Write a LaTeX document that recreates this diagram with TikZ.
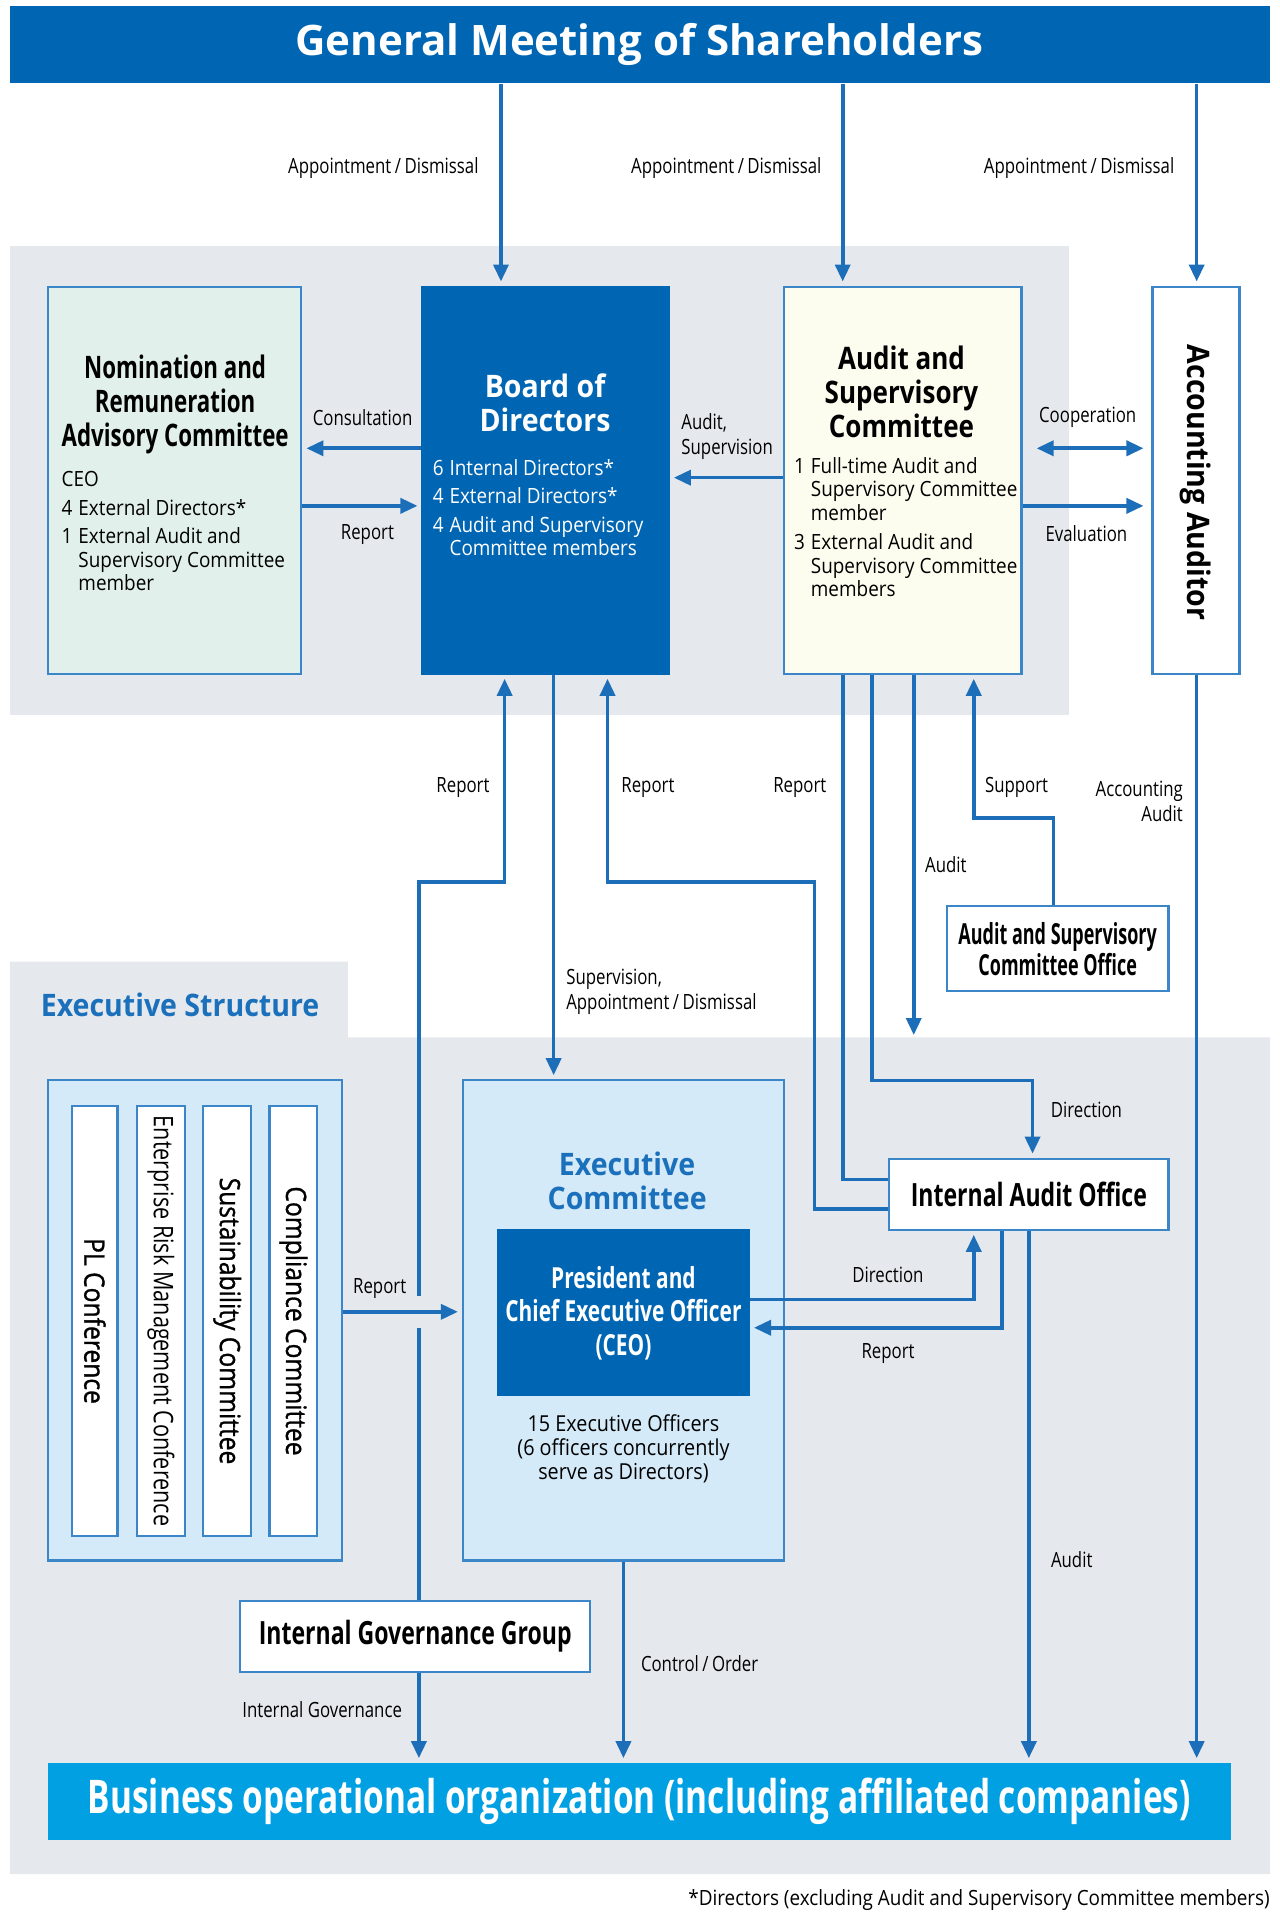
\documentclass[tikz,border=0pt]{standalone}
\usepackage{fontspec}
\setmainfont{Open Sans}
\newfontfamily\fbody{Open Sans}[FakeStretch=0.9]
\newfontfamily\fstrip{Open Sans}[FakeStretch=0.88,FakeBold=1]
\newfontfamily\flab{Open Sans}[FakeStretch=0.8]
\newfontfamily\fbc{Open Sans}[FakeStretch=0.72]
\newfontfamily\fbcx{Open Sans}[FakeStretch=0.62]
\newfontfamily\fbn{Open Sans}[FakeStretch=0.92]
\newfontfamily\fbm{Open Sans}[FakeStretch=0.84]
\usetikzlibrary{arrows.meta,fit}
\definecolor{dblue}{HTML}{0066B3}
\definecolor{lblue}{HTML}{1C6EB9}
\definecolor{bord}{HTML}{3A86C8}
\definecolor{mint}{HTML}{E1F0EB}
\definecolor{cream}{HTML}{FDFDEF}
\definecolor{lightb}{HTML}{D4EAF8}
\definecolor{panel}{HTML}{E5E9ED}
\definecolor{cyanb}{HTML}{00A0E2}
\definecolor{tblue}{HTML}{1B70BC}
\begin{document}
\begin{tikzpicture}[x=0.61244pt,y=-0.61244pt,
  box/.style={draw=bord, line width=1.1pt, inner sep=0pt},
  conn/.style={draw=lblue, line width=1.8pt},
  arr/.style={conn, -{Triangle[length=8.5pt,width=7.5pt]}, shorten >=2pt},
  dbl/.style={conn, {Triangle[length=8.5pt,width=7.5pt]}-{Triangle[length=8.5pt,width=7.5pt]}},
  lab/.style={font=\flab\fontsize{10.5}{12.5}\selectfont, inner sep=0pt, align=center},
  bodytxt/.style={font=\fbody\fontsize{10.5}{11.8}\selectfont, inner sep=0pt, anchor=west},
  ttlc/.style={font=\fbc\bfseries\fontsize{15.5}{17}\selectfont, inner sep=0pt, align=center},
  ttln/.style={font=\fbn\bfseries\fontsize{15.5}{17}\selectfont, inner sep=0pt, align=center},
  strip/.style={font=\fstrip\fontsize{14}{16}\selectfont, inner sep=0pt, rotate=-90},
]
\useasboundingbox (0,0) rectangle (1045,1570);
\fill[white] (0,0) rectangle (1045,1570);

% background panels
\fill[panel] (8,201) rectangle (873,584);
\fill[panel] (8,785) -- (284,785) -- (284,847) -- (1037,847) -- (1037,1530) -- (8,1530) -- cycle;

% top bar
\node[fill=dblue, inner sep=0pt, fit={(8,5) (1037,68)}] (gms) {};
\node[font=\bfseries\fontsize{21}{24}\selectfont, text=white, inner sep=0pt] (gmst) at (522,36) {General Meeting of Shareholders};

% upper boxes
\node[box, fill=mint, fit={(39,234) (246,550)}] (nrac) {};
\node[box, draw=dblue, fill=dblue, fit={(345,234) (546,550)}] (board) {};
\node[box, fill=cream, fit={(640,234) (834,550)}] (asc) {};
\node[box, fill=white, fit={(941,234) (1012,550)}] (acc) {};

\node[ttlc] (nract) at (143,330) {Nomination and\\Remuneration\\Advisory Committee};
\node[bodytxt] (nracb) at (50,436) {\begin{tabular}{@{}l@{\hspace{3pt}}l@{}}
\multicolumn{2}{@{}l@{}}{CEO}\\[2.5pt]
4 & External Directors*\\[2.5pt]
1 & External Audit and\\
  & Supervisory Committee\\
  & member
\end{tabular}};

\node[ttln, text=white] (boardt) at (445,329) {Board of\\Directors};
\node[bodytxt, text=white] (boardb) at (353,417) {\begin{tabular}{@{}l@{\hspace{3pt}}l@{}}
6 & Internal Directors*\\[2.5pt]
4 & External Directors*\\[2.5pt]
4 & Audit and Supervisory\\
  & Committee members
\end{tabular}};

\node[font=\fbm\bfseries\fontsize{15.5}{17}\selectfont, inner sep=0pt, align=center] (asct) at (736,320) {Audit and\\Supervisory\\Committee};
\node[bodytxt] (ascb) at (648,433) {\begin{tabular}{@{}l@{\hspace{3pt}}l@{}}
1 & Full-time Audit and\\
  & Supervisory Committee\\
  & member\\[2.7pt]
3 & External Audit and\\
  & Supervisory Committee\\
  & members
\end{tabular}};

\node[font=\fbn\bfseries\fontsize{15.5}{17}\selectfont, inner sep=0pt, rotate=-90] (acct) at (976,394) {Accounting Auditor};

% lower boxes
\node[font=\fbn\bfseries\fontsize{15.5}{17}\selectfont, text=tblue, inner sep=0pt] (exst) at (147,820) {Executive Structure};

\node[box, fill=lightb, fit={(39,882) (279,1274)}] (comm) {};
\node[box, fill=white, fit={(59,903) (96,1254)}] (s1) {};
\node[box, fill=white, fit={(112,903) (151,1254)}] (s2) {};
\node[box, fill=white, fit={(166,903) (205,1254)}] (s3) {};
\node[box, fill=white, fit={(220,903) (259,1254)}] (s4) {};
\node[strip] (s1t) at (s1.center) {PL Conference};
\node[strip, font=\flab\fontsize{13.5}{16}\selectfont] (s2t) at (s2.center) {Enterprise Risk Management Conference};
\node[strip] (s3t) at (s3.center) {Sustainability Committee};
\node[strip] (s4t) at (s4.center) {Compliance Committee};

\node[box, fill=lightb, fit={(378,882) (640,1274)}] (exec) {};
\node[ttln, text=tblue] (exect) at (512,964) {Executive\\Committee};
\node[fill=dblue, inner sep=0pt, fit={(406,1003) (612,1140)}] (ceo) {};
\node[font=\fbc\bfseries\fontsize{14.5}{16.8}\selectfont, text=white, inner sep=0pt, align=center] (ceot) at (509,1072) {President and\\Chief Executive Officer\\(CEO)};
\node[font=\fbody\fontsize{11}{12}\selectfont, inner sep=0pt, align=center] (officers) at (509,1183) {15 Executive Officers\\(6 officers concurrently\\serve as Directors)};

\node[box, fill=white, fit={(726,946) (954,1004)}] (iao) {};
\node[font=\fbc\bfseries\fontsize{16}{18}\selectfont, inner sep=0pt] (iaot) at (iao.center) {Internal Audit Office};
\node[box, fill=white, fit={(773,740) (954,809)}] (asco) {};
\node[font=\fbcx\bfseries\fontsize{14.5}{15.5}\selectfont, inner sep=0pt, align=center] (ascot) at (asco.center) {Audit and Supervisory\\Committee Office};
\node[box, fill=white, fit={(196,1307) (482,1365)}] (igg) {};
\node[font=\fbc\bfseries\fontsize{16}{18}\selectfont, inner sep=0pt] (iggt) at (igg.center) {Internal Governance Group};
\node[fill=cyanb, inner sep=0pt, fit={(39,1439) (1005,1502)}] (boo) {};
\node[font=\fbc\bfseries\fontsize{23.2}{25}\selectfont, text=white, inner sep=0pt] (boot) at (522,1471) {Business operational organization (including affiliated companies)};

% connectors from the General Meeting
\draw[arr] (409,0 |- gms.south) -- (409,0 |- board.north);
\draw[arr] (688,0 |- gms.south) -- (688,0 |- asc.north);
\draw[arr] (977,0 |- gms.south) -- (977,0 |- acc.north);
\node[lab] (l1) at (313,137) {Appointment\,/\,Dismissal};
\node[lab] (l2) at (593,137) {Appointment\,/\,Dismissal};
\node[lab] (l3) at (881,137) {Appointment\,/\,Dismissal};

% upper horizontal connectors
\draw[arr] (board.west |- 0,366) -- (nrac.east |- 0,366);
\node[lab] (lcons) at (296,341) {Consultation};
\draw[arr] (nrac.east |- 0,413) -- (board.west |- 0,413);
\node[lab] (lrep1) at (300,436) {Report};
\draw[arr] (asc.west |- 0,390) -- (board.east |- 0,390);
\node[lab, anchor=west, align=left] (laud) at (556,356) {Audit,\\Supervision};
\draw[dbl, shorten <=7pt, shorten >=4pt] (asc.east |- 0,366) -- (acc.west |- 0,366);
\node[lab] (lcoop) at (888,341) {Cooperation};
\draw[arr, shorten >=4pt] (asc.east |- 0,413) -- (acc.west |- 0,413);
\node[lab] (leval) at (887,436) {Evaluation};

% board to executive committee
\draw[arr] (452,0 |- board.south) -- (452,0 |- exec.north);
\node[lab, anchor=west, align=left] (lsup) at (462,810) {Supervision,\\Appointment\,/\,Dismissal};

% report from internal governance group to board (with gap)
\coordinate (gapb) at (342,1084);
\coordinate (gapt) at (342,1058);
\draw[conn] (342,0 |- igg.north) -- (gapb);
\draw[arr] (gapt) -- (342,720) -- (412,720) -- (412,0 |- board.south);
\node[lab] (lrep2) at (378,643) {Report};

% report from internal audit office to board
\draw[arr] (iao.west |- 0,987) -- (665,987) -- (665,720) -- (496,720) -- (496,0 |- board.south);
\node[lab] (lrep3) at (529,643) {Report};

% report from internal audit office to ASC
\draw[conn] (iao.west |- 0,963) -- (688,963) -- (688,0 |- asc.south);
\node[lab] (lrep4) at (653,643) {Report};

% direction ASC to internal audit office
\draw[arr] (712,0 |- asc.south) -- (712,882) -- (843,882) -- (843,0 |- iao.north);
\node[lab] (ldir1) at (887,906) {Direction};

% audit (free end)
\coordinate (auditend) at (746,845);
\draw[arr, shorten >=0pt] (746,0 |- asc.south) -- (auditend);
\node[lab, anchor=west] (laudit1) at (755,706) {Audit};

% support
\draw[arr] (860,0 |- asco.north) -- (860,668) -- (795,668) -- (795,0 |- asc.south);
\node[lab] (lsupp) at (830,643) {Support};

% accounting audit
\draw[arr] (977,0 |- acc.south) -- (977,0 |- boo.north);
\node[lab, anchor=east, align=right] (lacc) at (966,654) {Accounting\\Audit};

% committees report to executive committee
\draw[arr] (comm.east |- 0,1071) -- (exec.west |- 0,1071);
\node[lab] (lrep5) at (310,1052) {Report};

% CEO <-> internal audit office
\draw[arr] (ceo.east |- 0,1061) -- (795,1061) -- (795,0 |- iao.south);
\node[lab] (ldir2) at (725,1041) {Direction};
\draw[arr] (818,0 |- iao.south) -- (818,1084) -- (ceo.east |- 0,1084);
\node[lab] (lrep6) at (725,1105) {Report};

% audit to business organization
\draw[arr] (840,0 |- iao.south) -- (840,0 |- boo.north);
\node[lab] (laudit2) at (875,1273) {Audit};

% control / order
\draw[arr] (509,0 |- exec.south) -- (509,0 |- boo.north);
\node[lab, anchor=west] (lctrl) at (523,1358) {Control\,/\,Order};

% internal governance
\draw[arr] (342,0 |- igg.south) -- (342,0 |- boo.north);
\node[lab] (lig) at (263,1396) {Internal Governance};

% footnote
\node[font=\fbody\fontsize{10.5}{12.5}\selectfont, inner sep=0pt, anchor=east] (foot) at (1037,1551) {*Directors (excluding Audit and Supervisory Committee members)};
\end{tikzpicture}
\end{document}
